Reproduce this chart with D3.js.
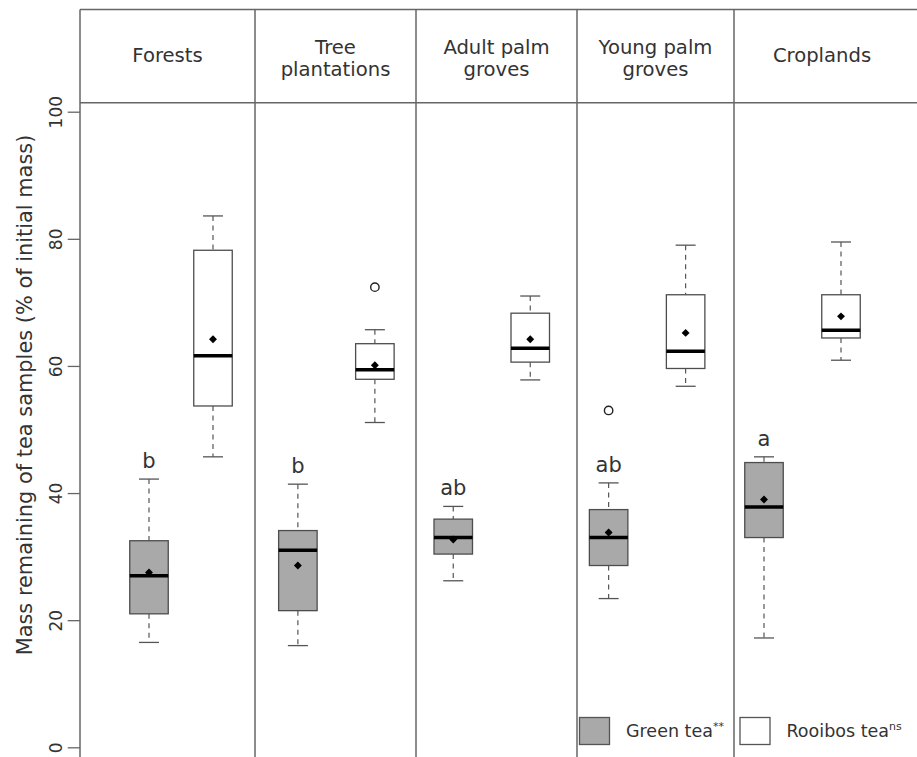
<!DOCTYPE html>
<html>
<head>
<meta charset="utf-8">
<script src="https://cdnjs.cloudflare.com/ajax/libs/d3/7.8.5/d3.min.js"></script>
<style>
  body { margin: 0; background: #fff; }
  svg { display: block; }
  text { font-family: "DejaVu Sans", sans-serif; fill: #333; }
</style>
</head>
<body>
<svg id="chart" width="917" height="757"></svg>
<script>
// Land-use categories (panel headers)
const sites = ["Forests", "Tree plantations", "Adult palm groves", "Young palm groves", "Croplands"];
const siteHeaderLines = [["Forests"], ["Tree", "plantations"], ["Adult palm", "groves"], ["Young palm", "groves"], ["Croplands"]];

// Green tea: box-plot statistics (% of initial mass remaining)
const greenMin     = [16.5, 16.0, 26.2, 23.4, 17.2];
const greenQ1      = [21.0, 21.5, 30.4, 28.6, 33.0];
const greenMedian  = [27.0, 31.0, 33.0, 33.0, 37.8];
const greenQ3      = [32.5, 34.1, 35.9, 37.4, 44.8];
const greenMax     = [42.2, 41.4, 37.9, 41.6, 45.7];
const greenMean    = [27.5, 28.6, 32.7, 33.8, 39.0];
const greenOutliers = [[], [], [], [53.0], []];

// Rooibos tea: box-plot statistics
const rooibosMin     = [45.7, 51.1, 57.8, 56.8, 60.9];
const rooibosQ1      = [53.7, 57.9, 60.6, 59.6, 64.4];
const rooibosMedian  = [61.6, 59.4, 62.8, 62.3, 65.6];
const rooibosQ3      = [78.2, 63.5, 68.3, 71.2, 71.2];
const rooibosMax     = [83.6, 65.7, 71.0, 79.0, 79.5];
const rooibosMean    = [64.2, 60.1, 64.2, 65.2, 67.8];
const rooibosOutliers = [[], [72.4], [], [], []];

// Post-hoc group letters for green tea
const greenLetters = ["b", "b", "ab", "ab", "a"];

// Axis ticks
const yTicks = [0, 20, 40, 60, 80, 100];
const yTitle = "Mass remaining of tea samples (% of initial mass)";

// ---- layout ----
const W = 917, H = 757;
const panelEdges = [80, 255, 416, 577, 734, 910];
const frameTop = 9.5, headerBottom = 102.7;
const pairSpread = [64, 77, 77, 77, 77];
const boxWidth = 38.5, capWidth = 20;

const teas = [
  { key: "green", name: "Green tea", sup: "**", fill: "#a9a9a9",
    min: greenMin, q1: greenQ1, med: greenMedian, q3: greenQ3, max: greenMax,
    mean: greenMean, out: greenOutliers },
  { key: "rooibos", name: "Rooibos tea", sup: "ns", fill: "#ffffff",
    min: rooibosMin, q1: rooibosQ1, med: rooibosMedian, q3: rooibosQ3, max: rooibosMax,
    mean: rooibosMean, out: rooibosOutliers }
];

const svg = d3.select("#chart");

const y = d3.scaleLinear().domain([0, 100]).range([747.3, 111.7]);
const xSite = d3.scalePoint().domain(sites).range([181, 802.5]);
const xTea = d3.scalePoint().domain(teas.map(t => t.key)).range([-0.5, 0.5]);
const xBox = (site, i, key) => xSite(site) + xTea(key) * pairSpread[i];

// ---- frame & panel strips ----
const frame = svg.append("g").attr("stroke", "#666").attr("stroke-width", 1.5);
frame.append("line").attr("x1", panelEdges[0]).attr("x2", W + 5).attr("y1", frameTop).attr("y2", frameTop);
frame.append("line").attr("x1", panelEdges[0]).attr("x2", W + 5).attr("y1", headerBottom).attr("y2", headerBottom);
panelEdges.slice(0, 5).forEach(px => {
  frame.append("line").attr("x1", px).attr("x2", px).attr("y1", frameTop).attr("y2", H + 5);
});

const headers = svg.append("g").attr("font-size", 19.6).attr("text-anchor", "middle");
sites.forEach((s, i) => {
  const cx = (panelEdges[i] + panelEdges[i + 1]) / 2;
  const lines = siteHeaderLines[i];
  const baselines = lines.length === 1 ? [61.5] : [54, 76];
  lines.forEach((ln, j) => {
    headers.append("text").attr("x", cx).attr("y", baselines[j]).text(ln);
  });
});

// ---- y axis ----
const yAxis = d3.axisLeft(y).tickValues(yTicks).tickSize(12.3).tickFormat(d3.format("d"));
const ya = svg.append("g").attr("transform", `translate(${panelEdges[0]},0)`).call(yAxis);
ya.select(".domain").remove();
ya.selectAll(".tick line").attr("stroke", "#666").attr("stroke-width", 1.3);
ya.selectAll(".tick text")
  .attr("x", null).attr("dy", null)
  .attr("transform", "translate(-18.5,0) rotate(-90)")
  .attr("text-anchor", "middle")
  .attr("font-size", 17)
  .attr("font-family", "DejaVu Sans, sans-serif")
  .attr("fill", "#333");

svg.append("text")
  .attr("transform", "translate(31.5,395) rotate(-90)")
  .attr("text-anchor", "middle")
  .attr("font-size", 20.9)
  .text(yTitle);

// ---- box plots ----
const plot = svg.append("g");
const whisker = (g, cx, v1, v2) =>
  g.append("line").attr("x1", cx).attr("x2", cx).attr("y1", y(v1)).attr("y2", y(v2))
    .attr("stroke", "#555").attr("stroke-width", 1.2).attr("stroke-dasharray", "5,4.5");

teas.forEach(t => {
  sites.forEach((s, i) => {
    const cx = xBox(s, i, t.key);
    const g = plot.append("g");
    // dashed whiskers
    whisker(g, cx, t.max[i], t.q3[i]);
    whisker(g, cx, t.q1[i], t.min[i]);
    // whisker caps
    [t.max[i], t.min[i]].forEach(v => {
      g.append("line").attr("x1", cx - capWidth / 2).attr("x2", cx + capWidth / 2)
        .attr("y1", y(v)).attr("y2", y(v)).attr("stroke", "#555").attr("stroke-width", 1.3);
    });
    // box
    g.append("rect")
      .attr("x", cx - boxWidth / 2).attr("width", boxWidth)
      .attr("y", y(t.q3[i])).attr("height", y(t.q1[i]) - y(t.q3[i]))
      .attr("fill", t.fill).attr("stroke", "#4d4d4d").attr("stroke-width", 1.3);
    // median
    g.append("line").attr("x1", cx - boxWidth / 2).attr("x2", cx + boxWidth / 2)
      .attr("y1", y(t.med[i])).attr("y2", y(t.med[i]))
      .attr("stroke", "#000").attr("stroke-width", 3.5);
    // mean (diamond)
    g.append("path")
      .attr("d", d3.symbol(d3.symbolDiamond2, 40)())
      .attr("transform", `translate(${cx},${y(t.mean[i])})`)
      .attr("fill", "#000");
    // outliers
    t.out[i].forEach(v => {
      g.append("circle").attr("cx", cx).attr("cy", y(v)).attr("r", 4.2)
        .attr("fill", "none").attr("stroke", "#222").attr("stroke-width", 1.4);
    });
  });
});

// group letters above green tea boxes
const letters = svg.append("g").attr("font-size", 21).attr("text-anchor", "middle");
sites.forEach((s, i) => {
  letters.append("text")
    .attr("x", xBox(s, i, "green"))
    .attr("y", y(greenMax[i]) - 11)
    .text(greenLetters[i]);
});

// ---- legend ----
const legend = svg.append("g").attr("font-size", 17.5);
const legendX = [579.5, 740];
teas.forEach((t, k) => {
  const lg = legend.append("g").attr("transform", `translate(${legendX[k]},717.5)`);
  lg.append("rect").attr("width", 30).attr("height", 27)
    .attr("fill", t.fill).attr("stroke", "#555").attr("stroke-width", 1.3);
  const tx = lg.append("text").attr("x", 46.5).attr("y", 19);
  tx.append("tspan").text(t.name);
  tx.append("tspan").attr("font-size", 11).attr("dy", -7).text(t.sup);
});
</script>
</body>
</html>
